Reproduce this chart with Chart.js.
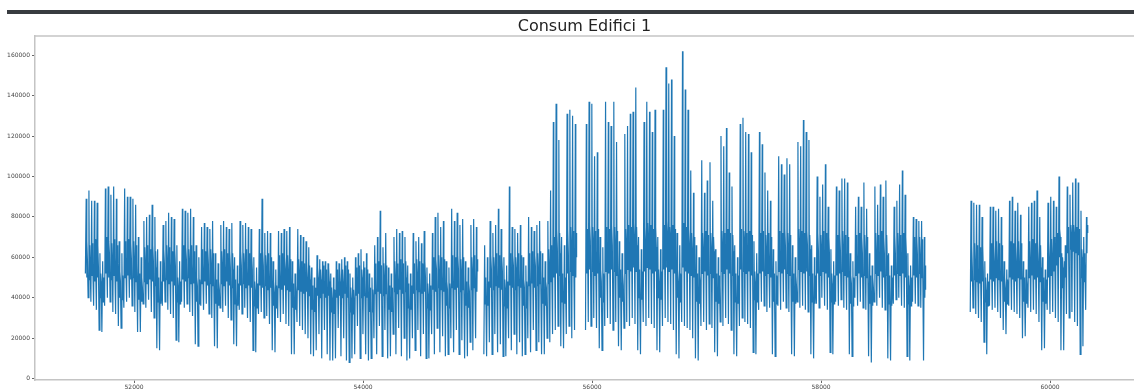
<!DOCTYPE html>
<html>
<head>
<meta charset="utf-8">
<title>Consum Edifici 1</title>
<script src="https://cdn.jsdelivr.net/npm/chart.js@4.4.1/dist/chart.umd.min.js"></script>
<style>
  html, body { margin: 0; padding: 0; background: #fff; overflow: hidden; }
  #topBar { position: absolute; left: 7px; right: 0; top: 10px; height: 4px; background: #383c40; }
  #wrap { position: absolute; left: 0; top: 0; width: 1134px; height: 389px; }
</style>
</head>
<body>
<div id="topBar"></div>
<div id="wrap"><canvas id="consumChart" width="1134" height="389"></canvas></div>
<script>
// ============================
// DATA (hourly index, one row per week Mon..Sun, values in thousands)
// ============================
const startHour = 51572;
// hour of the day at which each daily reading is placed
const hourOfLow = 3;
const hourOfPeak = 10;
const hourOfDip = 14;
const hourOfRise = 17;
const hourOfEve = 21;

// night minimum
const dayLow = [
  52, 40, 38, 36, 34, 24, 23,
  36, 40, 38, 33, 32, 26, 25,
  35, 38, 40, 36, 33, 23, 23,
  37, 35, 39, 33, 30, 15, 14,
  36, 38, 34, 32, 30, 19, 18,
  38, 35, 37, 33, 31, 17, 16,
  36, 34, 37, 32, 30, 16, 15,
  35, 33, 36, 30, 29, 17, 16,
  34, 32, 35, 30, 28, 14, 13,
  32, 33, 30, 31, 27, 14, 13,
  30, 28, 32, 27, 26, 12, 12,
  28, 26, 24, 22, 20, 12, 11,
  14, 22, 10, 24, 12, 9, 9,
  10, 25, 11, 20, 9, 8, 10,
  12, 26, 10, 22, 12, 9, 10,
  20, 12, 26, 11, 24, 10, 11,
  22, 12, 25, 11, 20, 9, 10,
  20, 14, 24, 11, 22, 10, 10,
  22, 12, 25, 13, 21, 11, 12,
  20, 13, 24, 12, 19, 10, 11,
  18, 14, 20, null, null, 12, 11,
  18, 12, 22, 13, 17, 11, 11,
  20, 14, 22, 12, 18, 11, 12,
  20, 13, 24, 14, 18, 12, 12,
  20, 18, 22, 24, 26, 16, 15,
  22, 26, 20, 24, null, null, null,
  24, 28, 26, 30, 25, 15, 14,
  26, 30, 27, 24, 28, 16, 14,
  25, 28, 26, 30, 27, 14, 12,
  28, 26, 30, 27, 25, 14, 13,
  26, 30, 28, 27, 24, 12, 10,
  28, 26, 25, 24, 20, 10, 9,
  26, 28, 24, 27, 25, 13, 11,
  28, 26, 30, 27, 24, 12, 11,
  26, 30, 28, 27, 25, 13, 12,
  34, 38, 36, 33, 35, 12, 11,
  36, 34, 38, 35, 33, 12, 11,
  38, 35, 36, 34, 33, 12, 10,
  37, 35, 40, 36, 34, 13, 12,
  38, 36, 39, 35, 34, 12, 11,
  40, 36, 38, 35, 34, 11, 8,
  38, 36, 40, 35, 34, 10, 9,
  37, 39, 40, 36, 35, 11, 9,
  38, 37, 36, 35, 9, null, null,
  null, null, null, null, null, null, null,
  null, null, null, null, null, null, null,
  33, 35, 32, 30, 28, 18, 12,
  36, 34, 35, 33, 30, 24, 22,
  36, 34, 33, 32, 30, 20, 21,
  35, 33, 34, 32, 28, 14, 15,
  34, 32, 33, 30, 28, 14, 14,
  32, 30, 33, 28, 26, 12, 16,
  34
];

// daily maximum
const dayPeak = [
  89, 93, 88, 88, 87, 62, 58,
  94, 95, 91, 95, 89, 68, 62,
  94, 90, 90, 89, 86, 70, 60,
  78, 80, 81, 86, 80, 64, 58,
  76, 78, 82, 80, 79, 66, 58,
  84, 83, 82, 84, 80, 66, 60,
  75, 77, 75, 74, 78, 62, 57,
  76, 78, 75, 74, 77, 60, 56,
  78, 76, 77, 75, 74, 60, 55,
  74, 89, 72, 73, 72, 58, 54,
  73, 72, 74, 73, 75, 58, 52,
  74, 71, 70, 68, 65, 55, 50,
  61, 59, 58, 58, 57, 52, 50,
  58, 57, 59, 60, 58, 52, 50,
  60, 62, 64, 58, 62, 52, 50,
  66, 70, 83, 65, 72, 55, 52,
  70, 74, 72, 73, 70, 56, 52,
  72, 68, 70, 67, 73, 55, 52,
  72, 80, 82, 75, 78, 58, 55,
  84, 78, 82, 76, 79, 58, 55,
  76, 79, 75, null, null, 66, 60,
  78, 72, 76, 84, 74, 60, 56,
  95, 75, 74, 72, 76, 60, 56,
  80, 75, 73, 76, 78, 62, 58,
  78, 93, 127, 136, 118, 70, 66,
  131, 133, 130, 126, null, null, null,
  126, 137, 136, 110, 112, 70, 65,
  137, 127, 125, 137, 117, 68, 62,
  121, 125, 131, 132, 144, 70, 64,
  127, 137, 132, 122, 133, 70, 64,
  133, 154, 146, 148, 120, 72, 66,
  162, 143, 133, 103, 92, 66, 60,
  108, 92, 98, 107, 88, 64, 60,
  120, 115, 124, 102, 95, 66, 60,
  126, 129, 122, 121, 112, 68, 62,
  122, 116, 102, 93, 88, 64, 58,
  110, 106, 101, 109, 106, 66, 60,
  117, 115, 128, 122, 118, 66, 60,
  100, 90, 96, 106, 85, 64, 58,
  95, 93, 99, 99, 97, 62, 58,
  85, 90, 85, 97, 84, 62, 56,
  95, 86, 96, 90, 98, 62, 56,
  85, 88, 96, 103, 91, 62, 56,
  80, 79, 78, 78, 70, null, null,
  null, null, null, null, null, null, null,
  null, null, null, null, null, null, null,
  88, 87, 86, 86, 80, 58, 52,
  85, 85, 83, 84, 80, 58, 54,
  88, 90, 83, 87, 81, 58, 54,
  85, 87, 88, 93, 80, 60, 54,
  87, 90, 88, 85, 100, 62, 58,
  95, 91, 97, 99, 97, 83, 70,
  80
];

// afternoon dip (bottom of the dense band)
const dayDip = [
  50, 49, 51, 48, 50, 40, 38,
  52, 50, 49, 51, 48, 40, 39,
  50, 51, 49, 50, 48, 39, 38,
  48, 47, 49, 48, 46, 38, 37,
  48, 49, 47, 48, 46, 38, 37,
  49, 48, 50, 47, 47, 38, 37,
  47, 48, 46, 47, 46, 37, 36,
  47, 46, 48, 46, 45, 37, 36,
  46, 47, 45, 46, 45, 36, 35,
  46, 45, 46, 44, 45, 36, 35,
  45, 44, 46, 44, 43, 35, 34,
  44, 43, 42, 43, 41, 34, 33,
  41, 40, 42, 40, 41, 33, 32,
  40, 41, 40, 42, 40, 33, 32,
  41, 42, 40, 41, 40, 33, 33,
  42, 43, 42, 41, 42, 34, 33,
  43, 42, 44, 42, 43, 35, 34,
  42, 44, 43, 42, 43, 35, 34,
  44, 43, 45, 44, 43, 36, 35,
  45, 44, 45, 43, 44, 36, 35,
  44, 45, 43, null, null, 37, 36,
  45, 44, 46, 45, 44, 36, 35,
  46, 45, 44, 46, 45, 36, 35,
  46, 47, 45, 46, 47, 37, 36,
  47, 48, 50, 52, 51, 38, 37,
  52, 53, 51, 50, null, null, null,
  52, 54, 53, 51, 52, 40, 38,
  53, 52, 54, 53, 51, 40, 38,
  52, 54, 53, 55, 53, 40, 39,
  53, 55, 54, 52, 53, 40, 39,
  54, 55, 53, 54, 52, 40, 38,
  55, 53, 52, 51, 50, 38, 37,
  52, 53, 51, 52, 50, 38, 37,
  53, 52, 54, 52, 51, 38, 37,
  54, 53, 52, 53, 51, 39, 38,
  52, 53, 51, 52, 50, 38, 37,
  53, 52, 54, 52, 51, 38, 37,
  54, 53, 52, 53, 51, 38, 37,
  52, 51, 53, 52, 50, 38, 37,
  51, 52, 53, 51, 50, 37, 36,
  51, 52, 50, 51, 50, 37, 36,
  52, 51, 53, 50, 51, 37, 36,
  51, 52, 51, 52, 50, 37, 36,
  51, 50, 52, 50, 40, null, null,
  null, null, null, null, null, null, null,
  null, null, null, null, null, null, null,
  48, 49, 48, 47, 48, 38, 36,
  49, 48, 50, 49, 48, 38, 37,
  50, 49, 48, 50, 49, 38, 37,
  50, 51, 49, 50, 48, 38, 37,
  50, 51, 53, 56, 60, 45, 50,
  62, 64, 63, 62, 61, 50, 48,
  62
];

// late afternoon rise (top of the dense band)
const dayRise = [
  68, 66, 67, 69, 66, 52, 50,
  70, 68, 67, 69, 66, 53, 51,
  68, 69, 67, 68, 66, 52, 50,
  65, 66, 64, 66, 63, 50, 48,
  64, 66, 65, 63, 64, 50, 48,
  66, 65, 64, 66, 63, 50, 49,
  64, 63, 65, 64, 62, 49, 48,
  63, 64, 62, 63, 62, 49, 47,
  63, 62, 64, 62, 61, 48, 47,
  62, 63, 61, 62, 60, 48, 46,
  61, 62, 60, 61, 59, 47, 46,
  59, 58, 57, 58, 56, 46, 45,
  55, 54, 56, 54, 55, 45, 44,
  54, 55, 54, 56, 54, 45, 44,
  55, 56, 54, 55, 54, 45, 44,
  57, 58, 56, 57, 56, 46, 45,
  58, 57, 59, 57, 58, 47, 46,
  57, 59, 58, 57, 58, 47, 46,
  60, 59, 61, 60, 59, 48, 47,
  61, 60, 61, 59, 60, 48, 47,
  60, 61, 59, null, null, 50, 48,
  61, 60, 62, 61, 60, 49, 48,
  62, 61, 60, 62, 61, 49, 48,
  62, 63, 61, 62, 63, 50, 48,
  64, 66, 70, 74, 72, 52, 50,
  74, 75, 73, 72, null, null, null,
  74, 76, 75, 73, 74, 54, 52,
  75, 74, 76, 75, 73, 54, 52,
  74, 76, 75, 77, 75, 54, 53,
  75, 77, 76, 74, 75, 54, 53,
  76, 78, 75, 76, 74, 54, 52,
  77, 75, 74, 72, 70, 52, 51,
  72, 73, 71, 72, 70, 52, 51,
  73, 72, 74, 72, 71, 52, 51,
  74, 73, 72, 73, 71, 53, 52,
  72, 73, 71, 72, 70, 52, 51,
  73, 72, 74, 72, 71, 52, 51,
  74, 73, 72, 73, 71, 52, 51,
  72, 71, 73, 72, 70, 52, 51,
  71, 72, 73, 71, 70, 51, 50,
  71, 72, 70, 71, 70, 51, 50,
  72, 71, 73, 70, 71, 51, 50,
  71, 72, 71, 72, 70, 51, 50,
  70, 71, 70, 69, 56, null, null,
  null, null, null, null, null, null, null,
  null, null, null, null, null, null, null,
  66, 67, 66, 65, 66, 50, 48,
  67, 66, 68, 67, 66, 50, 49,
  68, 67, 66, 68, 67, 50, 49,
  68, 69, 67, 68, 66, 50, 49,
  68, 69, 70, 72, 74, 60, 66,
  75, 76, 76, 75, 74, 64, 62,
  76
];

// evening value
const dayEve = [
  58, 56, 57, 55, 55, 48, 47,
  60, 62, 58, 60, 57, 48, 46,
  60, 58, 59, 58, 57, 47, 45,
  57, 58, 60, 58, 55, 45, 44,
  57, 58, 59, 57, 56, 46, 44,
  58, 59, 58, 57, 56, 46, 45,
  57, 58, 57, 56, 55, 45, 44,
  56, 57, 56, 55, 54, 44, 43,
  56, 56, 55, 54, 54, 44, 42,
  55, 56, 55, 54, 53, 43, 42,
  54, 55, 54, 53, 52, 42, 41,
  53, 52, 51, 50, 49, 40, 40,
  50, 49, 49, 48, 48, 40, 40,
  49, 48, 48, 49, 47, 40, 39,
  49, 50, 50, 49, 48, 40, 40,
  50, 51, 52, 50, 50, 42, 41,
  51, 52, 52, 51, 50, 42, 41,
  51, 52, 51, 52, 50, 42, 41,
  53, 54, 54, 53, 52, 44, 42,
  54, 55, 54, 53, 52, 44, 43,
  54, 55, 53, null, null, 48, 46,
  54, 55, 56, 54, 53, 45, 44,
  55, 56, 55, 54, 54, 45, 44,
  55, 56, 56, 55, 54, 46, 45,
  56, 58, 62, 64, 62, 48, 46,
  62, 64, 63, 60, null, null, null,
  66, 68, 67, 64, 63, 48, 46,
  66, 68, 66, 65, 64, 48, 46,
  66, 68, 67, 68, 66, 48, 47,
  66, 68, 67, 66, 65, 48, 47,
  68, 70, 69, 68, 66, 48, 47,
  68, 68, 66, 64, 62, 47, 46,
  64, 65, 66, 65, 63, 47, 46,
  65, 66, 67, 65, 63, 47, 46,
  66, 68, 67, 66, 64, 48, 46,
  64, 65, 64, 63, 62, 47, 46,
  64, 66, 65, 64, 63, 47, 46,
  66, 68, 67, 66, 64, 48, 46,
  63, 64, 64, 63, 62, 47, 46,
  62, 63, 64, 63, 62, 47, 45,
  62, 63, 62, 63, 61, 46, 45,
  62, 63, 62, 62, 61, 46, 45,
  62, 62, 63, 63, 61, 46, 45,
  62, 62, 61, 60, 44, null, null,
  null, null, null, null, null, null, null,
  null, null, null, null, null, null, null,
  55, 56, 55, 54, 53, 44, 42,
  56, 56, 55, 55, 54, 45, 44,
  56, 57, 56, 56, 55, 45, 44,
  57, 58, 58, 57, 55, 45, 44,
  58, 60, 62, 66, 70, 55, 60,
  71, 72, 72, 71, 70, 60, 58,
  72
];

const xTicks = [52000, 54000, 56000, 58000, 60000];
const yTicks = [0, 20000, 40000, 60000, 80000, 100000, 120000, 140000, 160000];

// ============================
// BUILD POINTS (null breaks the line)
// ============================
const points = [];
dayLow.forEach((low, d) => {
  const base = startHour + d * 24;
  [
    [hourOfLow, low],
    [hourOfPeak, dayPeak[d]],
    [hourOfDip, dayDip[d]],
    [hourOfRise, dayRise[d]],
    [hourOfEve, dayEve[d]],
  ].forEach(([h, v]) => {
    points.push({ x: base + h, y: v === null ? null : v * 1000 });
  });
});

// ============================
// TOP SPINE
// ============================
const topSpine = {
  id: "topSpine",
  afterDraw(chart) {
    const { ctx, chartArea } = chart;
    ctx.save();
    ctx.strokeStyle = "#c4c4c4";
    ctx.lineWidth = 1.5;
    ctx.beginPath();
    ctx.moveTo(chartArea.left, chartArea.top);
    ctx.lineTo(chart.width, chartArea.top);
    ctx.stroke();
    ctx.restore();
  },
};

const tickFont = { family: "DejaVu Sans", size: 6 };

new Chart(document.getElementById("consumChart"), {
  type: "line",
  data: {
    datasets: [
      {
        data: points,
        borderColor: "#1f77b4",
        borderWidth: 1.2,
        pointRadius: 0,
        tension: 0,
        spanGaps: false,
      },
    ],
  },
  options: {
    responsive: false,
    devicePixelRatio: 1,
    animation: false,
    parsing: false,
    layout: { padding: 0 },
    plugins: {
      legend: { display: false },
      tooltip: { enabled: false },
      title: {
        display: true,
        text: "Consum Edifici 1",
        fullSize: false,
        color: "#222",
        font: { family: "DejaVu Sans", size: 16, weight: "normal", lineHeight: 1 },
        padding: { top: 19, bottom: 1 },
      },
    },
    scales: {
      x: {
        type: "linear",
        min: 51135,
        max: 60733,
        afterBuildTicks: (s) => { s.ticks = xTicks.map((v) => ({ value: v })); },
        afterFit: (s) => { s.height = 9; },
        ticks: {
          font: tickFont,
          color: "#444",
          padding: 1,
          maxRotation: 0,
          autoSkip: false,
          callback: (v) => String(v),
        },
        grid: { drawOnChartArea: false, tickLength: 3, color: "#666" },
        border: { color: "#c4c4c4", width: 1.5 },
      },
      y: {
        type: "linear",
        min: -700,
        max: 169500,
        afterBuildTicks: (s) => { s.ticks = yTicks.map((v) => ({ value: v })); },
        afterFit: (s) => { s.width = 35; },
        ticks: {
          font: tickFont,
          color: "#444",
          padding: 2,
          autoSkip: false,
          callback: (v) => String(v),
        },
        grid: { drawOnChartArea: false, tickLength: 3, color: "#666" },
        border: { color: "#c4c4c4", width: 1.5 },
      },
    },
  },
  plugins: [topSpine],
});
</script>
</body>
</html>
